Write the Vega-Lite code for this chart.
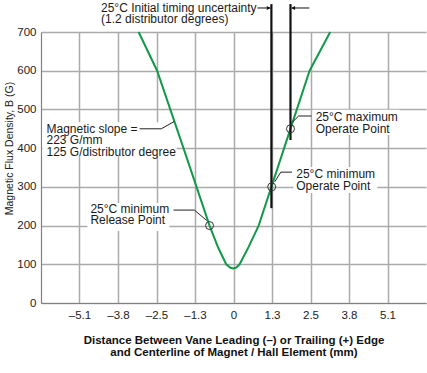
{
  "$schema": "https://vega.github.io/schema/vega-lite/v6.json",
  "width": 385,
  "height": 271,
  "autosize": {"type": "none"},
  "padding": {"left": 41, "top": 32, "right": 1, "bottom": 70},
  "background": "white",
  "config": {"font": "Liberation Sans", "view": {"stroke": null}},
  "datasets": {
    "boxes": [
      {"x": -6.3, "x2": -1.88, "y": 467, "y2": 380},
      {"x": -4.82, "x2": -2.11, "y": 258, "y2": 186},
      {"x": 1.98, "x2": 4.75, "y": 351, "y2": 284},
      {"x": 2.61, "x2": 5.48, "y": 499, "y2": 434}
    ],
    "curve": [
      {"x": -3.13, "y": 700},
      {"x": -2.52, "y": 600},
      {"x": -1.65, "y": 400},
      {"x": -0.79, "y": 200},
      {"x": -0.5, "y": 142},
      {"x": -0.24, "y": 100},
      {"x": -0.1, "y": 91},
      {"x": 0, "y": 89},
      {"x": 0.1, "y": 92},
      {"x": 0.2, "y": 100},
      {"x": 0.5, "y": 145},
      {"x": 0.83, "y": 200},
      {"x": 1.67, "y": 400},
      {"x": 2.51, "y": 600},
      {"x": 3.19, "y": 700}
    ],
    "verticals": [
      {"x": 1.25, "y": 245, "y2": 772},
      {"x": 1.88, "y": 421, "y2": 772}
    ],
    "shafts": [
      {"x": 0.79, "x2": 1.22, "y": 762},
      {"x": 1.92, "x2": 2.5, "y": 762}
    ],
    "heads": [
      {"x": 1.16, "y": 762, "dir": "right"},
      {"x": 1.97, "y": 762, "dir": "left"}
    ],
    "leaders": [
      {"id": 1, "o": 1, "x": -3.1, "y": 450},
      {"id": 1, "o": 2, "x": -2.38, "y": 450},
      {"id": 1, "o": 3, "x": -1.95, "y": 469},
      {"id": 2, "o": 1, "x": -1.98, "y": 240},
      {"id": 2, "o": 2, "x": -1.29, "y": 240},
      {"id": 2, "o": 3, "x": -0.88, "y": 213},
      {"id": 3, "o": 1, "x": 1.36, "y": 313},
      {"id": 3, "o": 2, "x": 1.56, "y": 338},
      {"id": 3, "o": 3, "x": 1.93, "y": 338},
      {"id": 4, "o": 1, "x": 1.94, "y": 467},
      {"id": 4, "o": 2, "x": 2.15, "y": 483},
      {"id": 4, "o": 3, "x": 2.57, "y": 483}
    ],
    "circles": [
      {"x": -0.79, "y": 200},
      {"x": 1.26, "y": 300},
      {"x": 1.88, "y": 450}
    ],
    "texts": [
      {"x": -4.37, "y": 762, "lines": ["25°C Initial timing uncertainty", "(1.2 distributor degrees)"]},
      {"x": -6.17, "y": 450, "lines": ["Magnetic slope =", "223 G/mm", "125 G/distributor degree"]},
      {"x": -4.72, "y": 243, "lines": ["25°C minimum", "Release Point"]},
      {"x": 2.07, "y": 333, "lines": ["25°C minimum", "Operate Point"]},
      {"x": 2.71, "y": 480, "lines": ["25°C maximum", "Operate Point"]}
    ]
  },
  "layer": [
    {
      "data": {"name": "boxes"},
      "mark": {"type": "rect", "fill": "white"},
      "encoding": {
        "x": {
          "field": "x", "type": "quantitative",
          "scale": {"domain": [-6.35, 6.35], "nice": false, "zero": false},
          "axis": {
            "values": [-5.08, -3.81, -2.54, -1.27, 0, 1.27, 2.54, 3.81, 5.08],
            "tickCount": 20,
            "labelExpr": "(datum.value < 0 ? '–' : '') + (datum.value == 0 ? '0' : format(abs(datum.value), '.1f'))",
            "grid": true, "gridColor": "#aaaaaa", "gridWidth": 1.5,
            "domainColor": "#808080", "domainWidth": 1.2,
            "ticks": false, "tickSize": 0,
            "labelFontSize": 11.5, "labelColor": "#222", "labelPadding": 6,
            "labelFlush": false, "labelOverlap": false,
            "title": ["Distance Between Vane Leading (–) or Trailing (+) Edge", "and Centerline of Magnet / Hall Element (mm)"],
            "titleFontSize": 11.5, "titleFontWeight": "bold", "titleColor": "#111",
            "titleLineHeight": 12, "titleBaseline": "middle", "titleY": 37
          }
        },
        "x2": {"field": "x2"},
        "y": {
          "field": "y", "type": "quantitative",
          "scale": {"domain": [0, 700], "nice": false, "zero": false},
          "axis": {
            "values": [0, 100, 200, 300, 400, 500, 600, 700],
            "tickCount": 20,
            "grid": true, "gridColor": "#aaaaaa", "gridWidth": 1.5,
            "domainColor": "#808080", "domainWidth": 1.2,
            "ticks": false, "tickSize": 0,
            "labelFontSize": 11.5, "labelColor": "#222", "labelPadding": 5,
            "labelFlush": false, "labelOverlap": false,
            "title": "Magnetic Flux Density, B (G)",
            "titleFontSize": 10.5, "titleFontWeight": "normal", "titleColor": "#222",
            "titleBaseline": "middle", "titleAlign": "center",
            "titleX": -32, "titleY": 116
          }
        },
        "y2": {"field": "y2"}
      }
    },
    {
      "data": {"name": "curve"},
      "mark": {"type": "line", "color": "#12994a", "strokeWidth": 2},
      "encoding": {
        "x": {"field": "x", "type": "quantitative"},
        "y": {"field": "y", "type": "quantitative"}
      }
    },
    {
      "data": {"name": "verticals"},
      "mark": {"type": "rule", "color": "#111", "strokeWidth": 2.2},
      "encoding": {
        "x": {"field": "x", "type": "quantitative"},
        "y": {"field": "y", "type": "quantitative"},
        "y2": {"field": "y2"}
      }
    },
    {
      "data": {"name": "shafts"},
      "mark": {"type": "rule", "color": "#111", "strokeWidth": 1},
      "encoding": {
        "x": {"field": "x", "type": "quantitative"},
        "x2": {"field": "x2"},
        "y": {"field": "y", "type": "quantitative"}
      }
    },
    {
      "data": {"name": "heads"},
      "mark": {"type": "point", "filled": true, "color": "#111", "size": 18, "opacity": 1},
      "encoding": {
        "x": {"field": "x", "type": "quantitative"},
        "y": {"field": "y", "type": "quantitative"},
        "shape": {"field": "dir", "type": "nominal", "scale": {"domain": ["right", "left"], "range": ["triangle-right", "triangle-left"]}, "legend": null}
      }
    },
    {
      "data": {"name": "leaders"},
      "mark": {"type": "line", "color": "#222", "strokeWidth": 1},
      "encoding": {
        "x": {"field": "x", "type": "quantitative"},
        "y": {"field": "y", "type": "quantitative"},
        "detail": {"field": "id", "type": "nominal"},
        "order": {"field": "o", "type": "quantitative"}
      }
    },
    {
      "data": {"name": "circles"},
      "mark": {"type": "point", "filled": false, "color": "#333", "strokeWidth": 1, "size": 64, "opacity": 1},
      "encoding": {
        "x": {"field": "x", "type": "quantitative"},
        "y": {"field": "y", "type": "quantitative"}
      }
    },
    {
      "data": {"name": "texts"},
      "mark": {"type": "text", "align": "left", "baseline": "middle", "fontSize": 12, "lineHeight": 11.5, "color": "#1a1a1a"},
      "encoding": {
        "x": {"field": "x", "type": "quantitative"},
        "y": {"field": "y", "type": "quantitative"},
        "text": {"field": "lines"}
      }
    }
  ]
}
